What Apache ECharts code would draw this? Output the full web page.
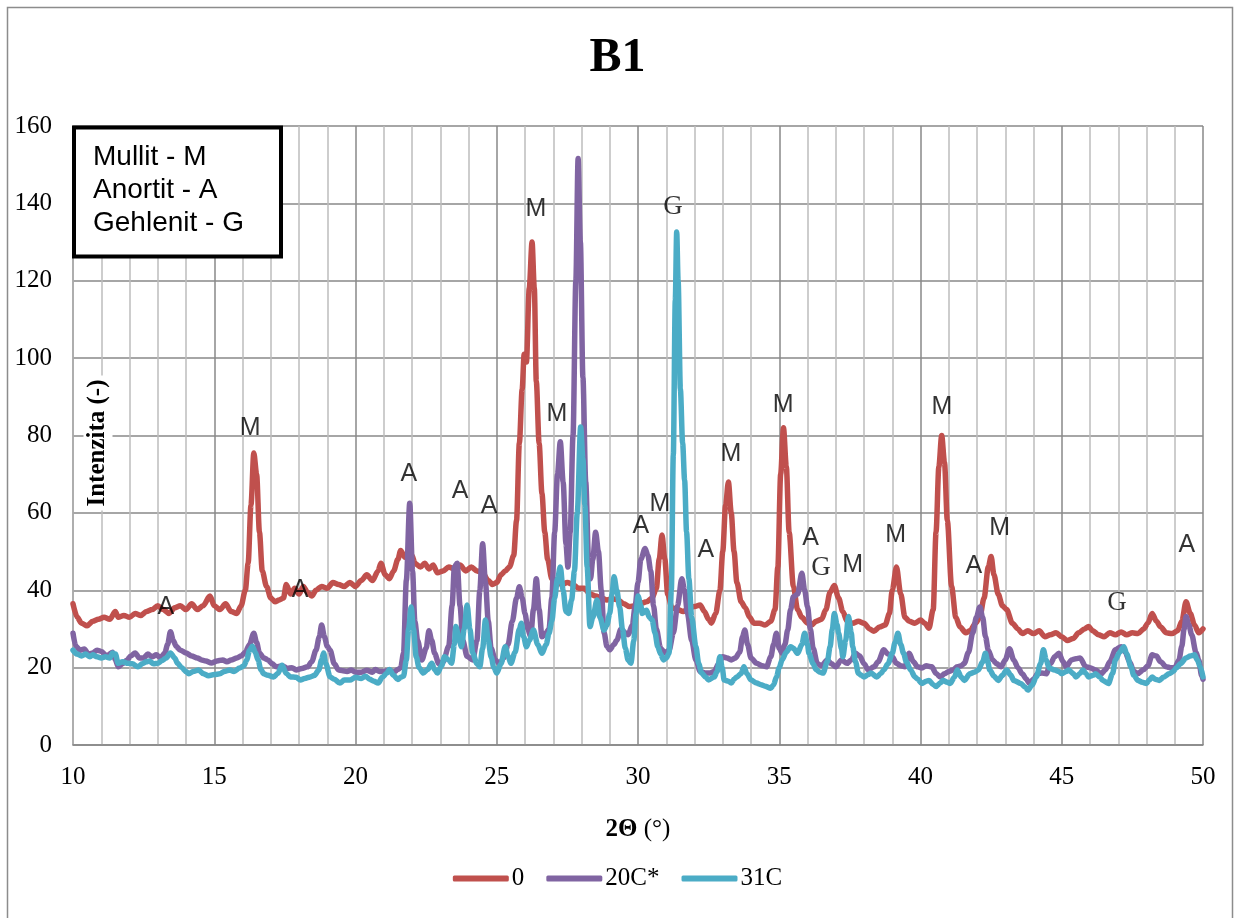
<!DOCTYPE html>
<html>
<head>
<meta charset="utf-8">
<title>B1</title>
<script src="https://cdn.jsdelivr.net/npm/echarts@6/dist/echarts.min.js"></script>
<style>
  html, body { margin: 0; padding: 0; background: #fff; }
  #chart { width: 1235px; height: 918px; }
</style>
</head>
<body>
<div id="chart"></div>
<script>
// XRD patterns of sample B1: [2θ (°), intensity (-)]
const pattern0 = [
  [10.0,36.5],[10.15,33],[10.3,31.5],[10.5,30.8],[10.7,32],[10.9,32.5],[11.1,33],[11.3,32.5],[11.5,34.5],[11.6,33],
  [11.8,33.5],[12.0,33],[12.2,34],[12.4,33.5],[12.6,34.5],[12.8,35],[13.0,36],[13.2,35],[13.4,34],[13.6,35.5],
  [13.8,36],[14.0,35],[14.2,36.5],[14.4,35],[14.6,36],[14.85,38.5],[15.0,36],[15.2,35],[15.4,36.5],[15.6,34.5],
  [15.8,34],[15.95,36],[16.1,40],[16.2,47],[16.3,62],[16.4,75.5],[16.5,70],[16.6,55],[16.7,45],[16.85,41],
  [17.0,38],[17.15,37],[17.3,37.5],[17.45,38],[17.55,41.5],[17.7,39],[17.85,40.5],[18.0,39],[18.15,41],[18.3,39.5],
  [18.45,38.5],[18.6,40],[18.8,41],[19.0,40.5],[19.2,42],[19.4,41.5],[19.6,41],[19.8,42],[20.0,41],[20.2,42.5],
  [20.4,44],[20.6,42.5],[20.8,45],[20.9,47],[21.05,44],[21.2,43],[21.35,45],[21.5,48],[21.6,50.3],[21.75,48.5],
  [21.9,48],[22.0,49],[22.1,47],[22.3,46],[22.45,47],[22.6,45.5],[22.75,46.5],[22.9,44.5],[23.1,45],[23.3,46],
  [23.5,45.5],[23.7,46.5],[23.9,45],[24.1,46],[24.3,45],[24.5,44.5],[24.7,42.5],[24.85,41.5],[25.0,42],[25.15,44],
  [25.3,45],[25.45,46],[25.6,49],[25.7,58],[25.8,78],[25.9,92],[25.97,101],[26.05,99],[26.15,118],[26.25,130],
  [26.33,118],[26.4,94],[26.5,78],[26.6,65],[26.7,55],[26.8,48],[26.95,43],[27.1,42.5],[27.3,41.5],[27.5,42],
  [27.7,41.5],[27.9,40.5],[28.1,40.5],[28.3,39],[28.5,38.5],[28.7,38],[28.9,37.5],[29.1,37.8],[29.3,37.5],[29.5,36.5],
  [29.7,35.8],[29.9,36],[30.1,36.6],[30.3,37],[30.5,38],[30.65,40.5],[30.75,48],[30.85,54.3],[30.95,48],[31.05,39],
  [31.2,35.5],[31.4,35],[31.6,34.5],[31.8,35.5],[32.0,35.8],[32.2,36.2],[32.35,34.5],[32.5,32.5],[32.6,31.5],[32.75,34],
  [32.9,40],[33.0,50],[33.1,62],[33.2,68],[33.3,60],[33.4,50],[33.5,42],[33.65,37],[33.8,35.5],[33.95,33],
  [34.1,31.5],[34.3,31.5],[34.5,31],[34.7,32],[34.85,35],[34.95,46],[35.05,70],[35.15,82],[35.25,72],[35.35,55],
  [35.5,41],[35.65,35],[35.8,33],[36.0,31.5],[36.15,31],[36.3,32],[36.5,32.5],[36.65,35],[36.8,39.5],[36.95,41.2],
  [37.1,38],[37.25,34.5],[37.4,32],[37.6,31.5],[37.8,32],[38.0,31.5],[38.2,30],[38.35,29.4],[38.55,30.5],[38.75,31],
  [38.9,34],[39.0,40],[39.15,46],[39.3,39],[39.45,33],[39.6,32],[39.8,31.5],[40.0,32.3],[40.15,31.5],[40.3,30.2],
  [40.45,35],[40.55,55],[40.65,72],[40.75,80],[40.85,73],[40.95,58],[41.1,41],[41.25,33],[41.4,30.5],[41.6,29],
  [41.75,29.5],[41.95,31.5],[42.1,33],[42.25,38],[42.4,46],[42.5,48.7],[42.6,44],[42.75,39],[42.9,36],[43.05,35],
  [43.25,31.5],[43.45,30],[43.6,28.8],[43.8,29.5],[44.0,28.8],[44.2,29.5],[44.4,28],[44.6,28.5],[44.8,29],[45.0,28],
  [45.2,27],[45.4,27.5],[45.6,29],[45.8,30],[45.95,30.6],[46.1,29.5],[46.3,28.5],[46.5,28],[46.7,29],[46.9,28.5],
  [47.1,29.2],[47.3,28.5],[47.5,29],[47.7,28.8],[47.9,30],[48.05,31.5],[48.2,34],[48.35,32],[48.5,30.5],[48.7,29],
  [48.9,28.8],[49.1,29.5],[49.25,32],[49.4,37],[49.55,34],[49.7,31],[49.85,29],[50.0,30]
];

const pattern20C = [
  [10.0,28.9],[10.1,25.5],[10.25,24.5],[10.4,24.8],[10.55,23.5],[10.7,23.8],[10.85,24.5],[11.0,24.2],[11.2,23],[11.4,24],
  [11.5,22],[11.6,20.2],[11.75,21],[11.9,21.9],[12.05,23],[12.2,23.8],[12.35,22.5],[12.5,22.5],[12.65,23.5],[12.8,22.8],
  [12.95,23.3],[13.1,22.5],[13.25,23.8],[13.35,26],[13.45,29.3],[13.55,27],[13.65,25.5],[13.8,24.5],[14.0,23.8],[14.2,23],
  [14.4,22.5],[14.55,22],[14.7,21.7],[14.9,21.2],[15.1,21.7],[15.3,22],[15.45,21.5],[15.6,22],[15.8,22.5],[15.95,23],
  [16.1,24],[16.25,26],[16.4,28.9],[16.5,26.5],[16.6,23.8],[16.75,22.5],[16.9,22],[17.05,21],[17.2,20.2],[17.4,20.5],
  [17.6,19.8],[17.75,20],[17.9,19.4],[18.1,19.8],[18.3,20.2],[18.45,21.5],[18.6,24.5],[18.72,28],[18.8,31],[18.9,28],
  [19.0,25.5],[19.1,24.5],[19.25,21],[19.4,19.4],[19.55,19.2],[19.7,19],[19.85,19.4],[20.0,18.8],[20.2,18.8],[20.4,19.3],
  [20.6,18.8],[20.7,19.5],[20.85,19],[21.0,19],[21.2,19.3],[21.35,18.8],[21.5,19.5],[21.6,20],[21.7,23.7],[21.8,42.6],
  [21.92,62.5],[22.02,45],[22.1,32],[22.2,27],[22.35,22],[22.5,25],[22.6,29.5],[22.7,27],[22.8,23.7],[22.95,21],
  [23.1,21.5],[23.3,25.5],[23.42,36],[23.5,46],[23.6,47],[23.7,36],[23.8,27],[23.95,22.9],[24.15,22],[24.3,27],
  [24.4,40],[24.5,52],[24.6,42],[24.7,32],[24.8,25],[24.95,22],[25.1,21],[25.25,22.5],[25.4,26],[25.55,32],
  [25.7,38],[25.8,40.9],[25.9,38],[26.0,34],[26.1,30],[26.2,28],[26.3,35],[26.4,43],[26.5,35],[26.6,28],
  [26.75,29],[26.85,30],[26.95,38],[27.05,55],[27.15,70],[27.25,78.4],[27.35,68],[27.45,52],[27.52,46],[27.6,55],
  [27.7,80],[27.8,120],[27.88,151.6],[27.96,130],[28.05,95],[28.15,68],[28.25,48],[28.32,43],[28.4,48],[28.5,55],
  [28.6,50],[28.7,40],[28.8,29],[28.9,25.5],[29.0,24.6],[29.15,26],[29.25,27.1],[29.4,30],[29.55,29],[29.65,28.5],
  [29.8,31],[29.9,36],[30.0,42],[30.1,48],[30.25,50.8],[30.35,49],[30.45,45],[30.55,36],[30.65,30],[30.8,25],
  [30.95,23.8],[31.1,24.5],[31.25,28.9],[31.4,36],[31.55,43],[31.65,40],[31.75,34],[31.9,27],[32.05,22],[32.2,19],
  [32.4,18.6],[32.55,18.6],[32.7,19],[32.85,21],[33.0,22.8],[33.15,22.5],[33.3,22],[33.45,22.5],[33.6,24],[33.7,28],
  [33.78,29.7],[33.88,26],[34.0,22.5],[34.2,21.1],[34.4,20.5],[34.55,20.2],[34.7,22.8],[34.8,26],[34.9,28.9],[35.0,25],
  [35.1,23.7],[35.2,26],[35.3,29.7],[35.4,35],[35.5,38.3],[35.65,39],[35.8,44.4],[35.9,40],[36.0,35.8],[36.1,30],
  [36.2,25],[36.35,21],[36.5,20.5],[36.7,22],[36.85,21],[37.0,20.2],[37.2,22],[37.4,21.1],[37.55,22],[37.7,23.7],
  [37.85,23],[38.0,21],[38.15,19.4],[38.35,20.2],[38.5,21.5],[38.7,24.6],[38.85,23.5],[39.0,22.8],[39.15,21.1],[39.3,20.5],
  [39.45,20.2],[39.6,23.7],[39.75,21.5],[39.9,20.2],[40.05,19.9],[40.2,20.5],[40.4,20.2],[40.55,18.5],[40.7,17.6],[40.85,18.4],
  [41.0,19],[41.15,19.4],[41.3,20.2],[41.45,20.5],[41.55,21.1],[41.7,24],[41.85,29],[41.98,33],[42.1,35.7],[42.2,33],
  [42.3,28],[42.4,24.5],[42.55,22],[42.7,21],[42.85,20.2],[43.0,22],[43.15,24.9],[43.3,22],[43.45,20],[43.6,18.4],
  [43.75,17],[43.85,16],[44.0,17],[44.15,18.4],[44.3,18.6],[44.45,18.4],[44.6,21],[44.75,22.8],[44.9,23.7],[45.05,21.5],
  [45.15,20.2],[45.35,22],[45.5,22.3],[45.65,22.5],[45.85,20.2],[46.0,20],[46.2,19.4],[46.4,18.4],[46.55,19.5],[46.7,21.5],
  [46.9,24.6],[47.1,25.4],[47.25,24],[47.4,21.5],[47.55,19],[47.7,18.5],[47.9,19.5],[48.05,20.5],[48.2,23.3],[48.35,23],
  [48.5,21.5],[48.7,20.2],[48.85,20],[49.0,19.9],[49.15,22],[49.25,25.5],[49.33,30],[49.4,33.2],[49.5,31],[49.6,28.5],
  [49.75,24],[49.85,22],[49.95,18],[50.0,17]
];

const pattern31C = [
  [10.0,24.5],[10.15,23.5],[10.3,23],[10.45,23.5],[10.6,22.8],[10.7,23.3],[10.85,22.8],[11.0,22.5],[11.15,22.8],[11.3,22.5],
  [11.4,23.8],[11.5,23.5],[11.6,21.1],[11.75,21.5],[11.95,21.1],[12.1,21],[12.3,20.2],[12.45,21],[12.6,21.5],[12.7,21.7],
  [12.85,21],[13.0,21.1],[13.15,21.8],[13.3,22.5],[13.45,23.8],[13.6,22.5],[13.7,21.1],[13.85,20],[14.0,19],[14.1,18.4],
  [14.25,19],[14.45,19.4],[14.6,18.5],[14.8,17.9],[15.0,18.2],[15.2,18.4],[15.35,19],[15.55,19.4],[15.7,19],[15.9,19.9],
  [16.05,20.5],[16.15,22],[16.25,24.5],[16.35,25.5],[16.45,24],[16.55,22],[16.65,19.5],[16.75,18.4],[16.9,18],[17.1,17.6],
  [17.25,18.5],[17.4,20.6],[17.55,18.5],[17.7,17.6],[17.9,17.5],[18.05,16.8],[18.2,17.2],[18.4,17.6],[18.55,18],[18.7,19.4],
  [18.8,22],[18.87,23.8],[18.95,21],[19.1,17.6],[19.25,17],[19.45,16],[19.6,16.8],[19.8,16.8],[20.0,17.5],[20.2,17.2],
  [20.35,17.8],[20.5,17],[20.65,16.5],[20.8,16],[20.95,17.5],[21.1,18.5],[21.2,19.5],[21.35,18],[21.5,16.9],[21.6,17.5],
  [21.7,17.8],[21.8,22],[21.88,30],[21.97,35.7],[22.05,30],[22.15,22.8],[22.25,20],[22.4,18.6],[22.55,19.5],[22.7,21.1],
  [22.8,19.5],[22.9,18.6],[23.05,20.5],[23.15,22.8],[23.3,22],[23.4,21.1],[23.5,26],[23.55,30.6],[23.65,28],[23.75,25.4],
  [23.85,30],[23.95,36.2],[24.05,30],[24.15,23.7],[24.3,21],[24.4,20.2],[24.5,25],[24.6,32.3],[24.7,27],[24.8,22.8],
  [24.9,20],[25.0,18.6],[25.15,21],[25.3,25.4],[25.4,23],[25.5,21.1],[25.65,24],[25.8,30],[25.87,31.5],[25.95,28],
  [26.05,25.4],[26.15,27],[26.3,29.7],[26.45,26],[26.6,23.7],[26.75,26],[26.85,28.9],[26.95,32],[27.05,38],[27.15,43],
  [27.25,46],[27.35,40],[27.45,34.5],[27.55,34],[27.65,37.5],[27.75,45],[27.85,60],[27.97,82.2],[28.05,74],[28.12,62],
  [28.2,46],[28.3,30.6],[28.4,33],[28.55,37.5],[28.65,33],[28.8,29.7],[28.9,31],[29.0,34],[29.08,39],[29.15,43.5],
  [29.25,40],[29.35,35.7],[29.45,30],[29.55,25],[29.65,22],[29.75,21.1],[29.85,27],[29.93,34],[30.0,38.5],[30.1,36],
  [30.15,34],[30.3,34.8],[30.4,33],[30.5,32.3],[30.6,29],[30.7,25.4],[30.8,23.5],[30.9,22],[31.0,22.5],[31.1,23.7],
  [31.18,40],[31.25,75],[31.32,115],[31.37,132.6],[31.42,120],[31.5,92],[31.58,78],[31.65,68.5],[31.72,55],[31.8,43],
  [31.9,33],[32.05,25.4],[32.15,21],[32.25,18.6],[32.4,17.5],[32.5,16.8],[32.7,17.6],[32.8,19],[32.9,22.8],[32.98,20],
  [33.05,16.8],[33.2,16.5],[33.3,16],[33.4,17],[33.5,17.6],[33.65,18.5],[33.75,20.2],[33.85,18.5],[34.0,16.8],[34.2,16],
  [34.35,15.6],[34.5,15.2],[34.7,14.7],[34.8,15.5],[34.9,17.6],[35.0,20],[35.1,22],[35.25,24],[35.4,25.4],[35.5,25],
  [35.65,23.7],[35.8,26],[35.9,28.9],[36.0,26],[36.05,23.7],[36.2,21],[36.3,19.5],[36.45,18.8],[36.55,18.6],[36.7,21.5],
  [36.8,25.4],[36.88,30],[36.95,34],[37.05,31],[37.1,28.9],[37.2,25],[37.25,22.8],[37.35,27],[37.45,33.2],[37.55,29],
  [37.6,25.4],[37.7,21.5],[37.8,18.6],[37.9,18],[38.0,17.6],[38.15,18.2],[38.25,18.6],[38.45,17.6],[38.6,18.5],[38.7,19.4],
  [38.85,21],[39.0,23.7],[39.1,26.5],[39.2,28.9],[39.3,26],[39.4,23.7],[39.5,21.5],[39.65,19.4],[39.8,17.6],[39.9,17],
  [40.05,15.9],[40.2,16.5],[40.3,16.7],[40.45,15.6],[40.55,15.1],[40.7,16],[40.8,16.7],[40.95,16.2],[41.05,15.9],[41.2,17.5],
  [41.3,19.4],[41.45,17.5],[41.55,16.7],[41.75,18.4],[41.9,18.8],[42.05,19.4],[42.2,21.5],[42.3,23.7],[42.38,21.5],[42.45,19.4],
  [42.6,17.8],[42.75,16.7],[42.9,18],[43.05,19.4],[43.2,18],[43.3,16.7],[43.55,15.9],[43.7,15],[43.8,14.2],[43.95,15.5],
  [44.1,17.6],[44.25,21],[44.35,24.6],[44.45,22],[44.55,19.9],[44.75,19.4],[44.9,19],[45.0,18.4],[45.15,19],[45.25,19.4],
  [45.4,18.5],[45.5,17.6],[45.65,18.5],[45.75,19.4],[45.85,18.5],[45.95,17.6],[46.1,18],[46.2,18.4],[46.35,17.5],[46.45,16.7],
  [46.65,15.9],[46.8,18.5],[46.9,22],[47.05,24],[47.2,25.4],[47.3,23.5],[47.45,20.2],[47.55,18],[47.7,16.7],[47.85,16.2],
  [48.0,15.9],[48.1,16.8],[48.2,17.6],[48.3,17],[48.45,16.7],[48.6,17.5],[48.8,18.4],[48.95,19],[49.05,19.9],[49.2,21],
  [49.4,22.5],[49.55,23],[49.7,23.3],[49.8,22],[49.9,20.2],[50.0,17.6]
];

const seriesNames = ['0', '20C*', '31C'];
const seriesColors = ['#C0504D', '#8064A2', '#4BACC6'];

// Phase marks: M = mullite, A = anorthite, G = gehlenite
const peakPhase = ['A','M','A','A','A','A','M','M','A','A','M','G','A','M','M','A','G','M','M','M','A','M','G','A'];
const peakTheta = [13.29,16.27,18.04,21.89,23.70,24.73,26.39,27.13,27.84,30.10,30.78,31.24,32.40,33.29,35.14,36.11,36.48,37.60,39.12,40.76,41.89,42.80,46.96,49.43];
const peakLevel = [35.7,81.9,40.0,70.0,65.6,61.8,138.5,85.5,160.2,56.5,62.2,139.0,50.5,75.3,87.9,53.6,45.8,46.5,54.2,87.3,46.3,56.0,36.7,51.7];

const legendLines = ['Mullit - M', 'Anortit - A', 'Gehlenit - G'];

const SERIF = '"Liberation Serif", "Times New Roman", serif';
const SANS = '"Liberation Sans", Arial, sans-serif';

const chart = echarts.init(document.getElementById('chart'), null, { renderer: 'canvas' });

const patterns = [pattern0, pattern20C, pattern31C];
const lineSeries = patterns.map((data, i) => ({
  name: seriesNames[i],
  type: 'line',
  data: data,
  showSymbol: false,
  symbol: 'none',
  smooth: 0.3,
  smoothMonotone: 'x',
  color: seriesColors[i],
  lineStyle: { width: 5.5, color: seriesColors[i], cap: 'round', join: 'round' },
  z: 3 + i,
  emphasis: { disabled: true }
}));

const peakSeries = {
  name: 'phases',
  type: 'scatter',
  symbolSize: 0,
  silent: true,
  z: 10,
  data: peakPhase.map((p, i) => ({ name: p, value: [peakTheta[i], peakLevel[i]] })),
  label: {
    show: true,
    position: 'inside',
    color: '#000',
    formatter: (p) => p.name === 'G' ? '{g|G}' : '{s|' + p.name + '}',
    rich: {
      s: { fontFamily: SANS, fontSize: 25, color: '#000' },
      g: { fontFamily: SERIF, fontSize: 27, color: '#000' }
    }
  }
};

const option = {
  animation: false,
  backgroundColor: '#fff',
  title: {
    text: 'B1',
    left: 'center',
    top: 30,
    textStyle: { fontFamily: SERIF, fontWeight: 'bold', fontSize: 48, color: '#000' }
  },
  grid: { left: 73, right: 32, top: 126, bottom: 173, containLabel: false },
  legend: {
    data: seriesNames,
    bottom: 22,
    left: 'center',
    icon: 'roundRect',
    itemWidth: 56,
    itemHeight: 6,
    itemGap: 22,
    textStyle: { fontFamily: SERIF, fontSize: 25, color: '#000', padding: [0, 0, 0, -2] }
  },
  xAxis: {
    type: 'value',
    min: 10,
    max: 50,
    interval: 5,
    name: '{b|2Θ} (°)',
    nameLocation: 'middle',
    nameGap: 72,
    nameTextStyle: {
      fontFamily: SERIF, fontSize: 25, color: '#000',
      rich: { b: { fontFamily: SERIF, fontSize: 25, fontWeight: 'bold', color: '#000' } }
    },
    axisLine: { show: true, lineStyle: { color: '#878787', width: 1.5 } },
    axisTick: { show: false },
    axisLabel: { fontFamily: SERIF, fontSize: 25, color: '#000', margin: 20, showMaxLabel: true, showMinLabel: true },
    splitLine: { show: true, lineStyle: { color: '#888888', width: 1.5 } },
    minorTick: { show: false, splitNumber: 5 },
    minorSplitLine: { show: true, lineStyle: { color: '#bdbdbd', width: 1.5 } }
  },
  yAxis: {
    type: 'value',
    min: 0,
    max: 160,
    interval: 20,
    axisLine: { show: true, lineStyle: { color: '#b0b0b0', width: 1.5 } },
    axisTick: { show: false },
    axisLabel: { fontFamily: SERIF, fontSize: 25, color: '#000', margin: 21 },
    splitLine: { show: true, lineStyle: { color: '#888888', width: 1.5 } }
  },
  graphic: [
    // outer chart frame
    {
      type: 'rect', silent: true, z: 0,
      shape: { x: 7.5, y: 7.5, width: 1225, height: 930 },
      style: { fill: null, stroke: '#8c8c8c', lineWidth: 1.5 }
    },
    // vertical axis title placed inside the plot
    {
      type: 'text', silent: true, zlevel: 1, z: 50,
      x: 98, y: 443, rotation: Math.PI / 2,
      style: {
        text: 'Intenzita (-)',
        font: 'bold 25px ' + SERIF,
        fill: '#000',
        align: 'center',
        verticalAlign: 'middle',
        backgroundColor: '#fff',
        padding: [2, 4, 2, 4]
      }
    },
    // phase key box (drawn on its own layer above the grid lines)
    {
      type: 'rect', silent: true, zlevel: 1, z: 50,
      shape: { x: 74, y: 127.5, width: 207, height: 129 },
      style: { fill: '#ffffff', stroke: '#000', lineWidth: 4 }
    }
  ].concat(legendLines.map((t, i) => ({
    type: 'text', silent: true, zlevel: 1, z: 51,
    x: 93, y: 157 + i * 33,
    style: { text: t, font: '28px ' + SANS, fill: '#000', align: 'left', verticalAlign: 'middle' }
  }))),
  series: lineSeries.concat([peakSeries])
};

chart.setOption(option);
</script>
</body>
</html>
